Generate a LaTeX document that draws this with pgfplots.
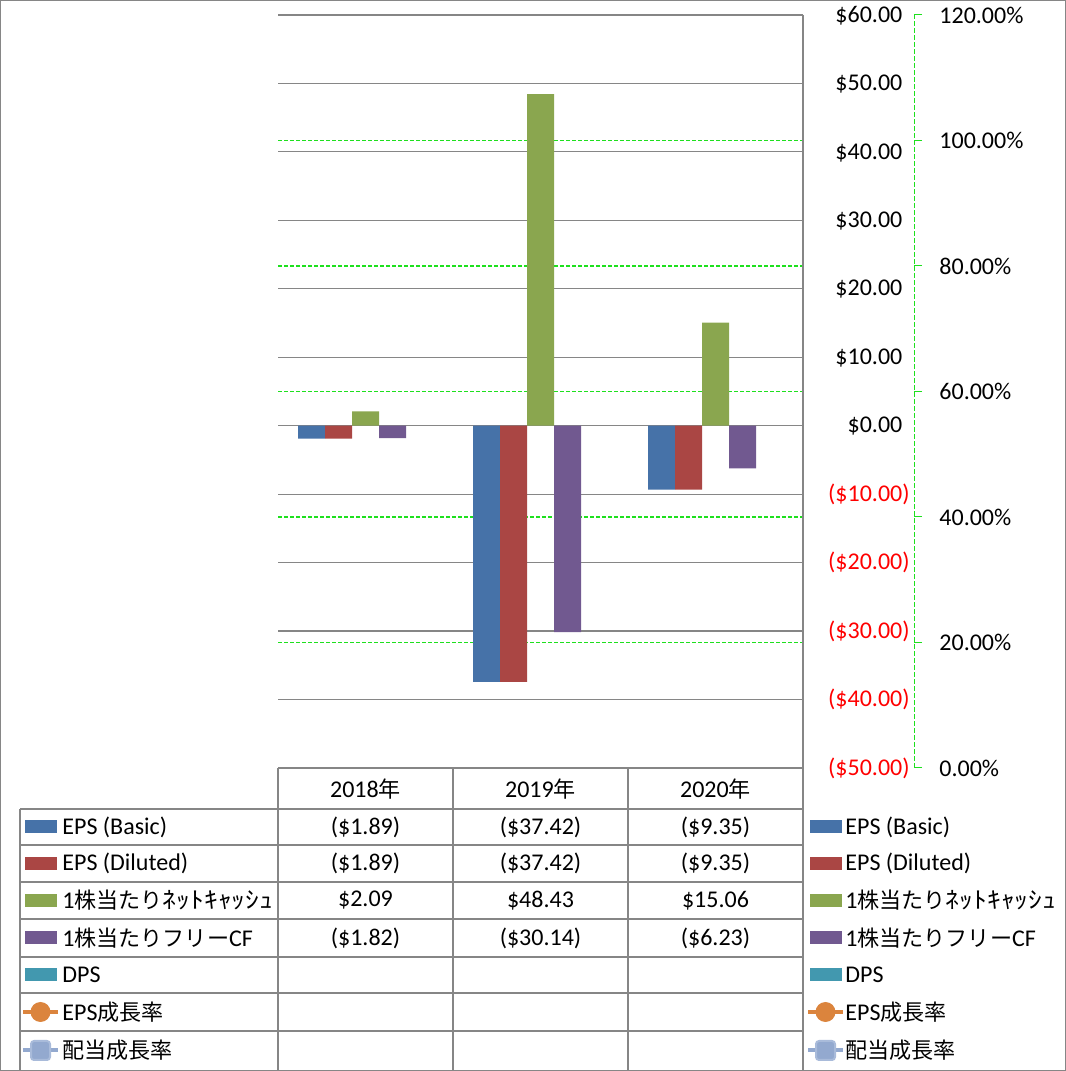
\documentclass[border=0pt]{standalone}
\usepackage{pgfplots}
\pgfplotsset{compat=1.18}
\usepackage{graphicx}
\usepackage{fontspec}
\setmainfont{Carlito}
\newfontfamily\jp{Noto Sans CJK JP}[Scale=0.92]
\newcommand{\J}[1]{{\jp #1}}
% half-width katakana are set wider in the original
\newcommand{\HK}[1]{\scalebox{1.25}[1.05]{\jp #1}}

\definecolor{cBlue}{HTML}{4672A8}
\definecolor{cRed}{HTML}{AA4644}
\definecolor{cGreen}{HTML}{8AA64F}
\definecolor{cPurple}{HTML}{715990}
\definecolor{cTeal}{HTML}{4298AF}
\definecolor{cOrange}{HTML}{DB843D}
\definecolor{cLight}{HTML}{93A9CF}
\definecolor{cLightEdge}{HTML}{A9BBDA}
\definecolor{gridgray}{HTML}{868686}
\definecolor{gline}{HTML}{1EE01E}

\newcommand{\fs}{\fontsize{12bp}{14bp}\selectfont}

\begin{document}
\begin{tikzpicture}[x=0.5bp,y=0.5bp,font=\fs]
\useasboundingbox (0,0) rectangle (1066,1071);

% secondary axis (percent), its line sits right of the labels
\begin{axis}[
  at={(139bp,151.5bp)}, anchor=south west, scale only axis,
  width=318bp, height=376.5bp,
  xmin=0, xmax=1, ymin=0, ymax=1.2,
  axis x line=none, axis y line*=right,
  y axis line style={gline, line width=0.5bp, dash pattern=on 2.5bp off 1bp},
  ytick={0,0.2,0.4,0.6,0.8,1.0,1.2},
  yticklabels={0.00\%,20.00\%,40.00\%,60.00\%,80.00\%,100.00\%,120.00\%},
  tick align=outside, major tick length=4bp,
  ytick style={gline, line width=0.5bp},
  yticklabel style={anchor=west, inner sep=0pt, xshift=8.5bp, font=\fs},
]
\end{axis}

% primary axis with bars
\begin{axis}[
  at={(139bp,151.5bp)}, anchor=south west, scale only axis,
  width=262.5bp, height=376.5bp,
  xmin=-0.5, xmax=2.5, ymin=-50, ymax=60,
  axis x line=none, axis y line*=right,
  y axis line style={gridgray, line width=0.6bp},
  ytick={-50,-40,-30,-20,-10,0,10,20,30,40,50,60},
  yticklabels={
    \textcolor{red}{(\$50.00)},\textcolor{red}{(\$40.00)},\textcolor{red}{(\$30.00)},
    \textcolor{red}{(\$20.00)},\textcolor{red}{(\$10.00)},
    \$0.00\phantom{)},\$10.00\phantom{)},\$20.00\phantom{)},\$30.00\phantom{)},
    \$40.00\phantom{)},\$50.00\phantom{)},\$60.00\phantom{)}},
  yticklabel style={anchor=east, inner sep=0pt, xshift=53.5bp, font=\fs},
  major tick length=0pt,
  ymajorgrids, major grid style={gridgray, line width=0.6bp},
  extra y ticks={-31.6667,-13.3333,5,23.3333,41.6667},
  extra y tick labels={},
  extra y tick style={ymajorgrids=true,
    major grid style={gline, line width=0.55bp, dash pattern=on 2bp off 1bp}},
  ybar, bar width=13.5bp,
]
\addplot[fill=cBlue, draw=none, bar shift=-27bp] coordinates {(0,-1.89) (1,-37.42) (2,-9.35)};
\addplot[fill=cRed, draw=none, bar shift=-13.5bp] coordinates {(0,-1.89) (1,-37.42) (2,-9.35)};
\addplot[fill=cGreen, draw=none, bar shift=0bp] coordinates {(0,2.09) (1,48.43) (2,15.06)};
\addplot[fill=cPurple, draw=none, bar shift=13.5bp] coordinates {(0,-1.82) (1,-30.14) (2,-6.23)};
\end{axis}

% outer border
\draw[gridgray, line width=0.6bp] (0.5,0.5) rectangle (1065.5,1070.5);

% data table
\begin{scope}[gridgray, line width=0.6bp]
  \draw (278,303) -- (803,303);
  \foreach \yy in {262,226,189,152,114,78,40} \draw (20,\yy) -- (803,\yy);
  \draw (20,262) -- (20,1);
  \foreach \xx in {278,453,628} \draw (\xx,303) -- (\xx,1);
  \draw (803,1056) -- (803,1);
\end{scope}

\node at (365.5,282) {2018\J{年}};
\node at (540.5,282) {2019\J{年}};
\node at (715.5,282) {2020\J{年}};

\node at (365.5,244) {(\$1.89)};
\node at (540.5,244) {(\$37.42)};
\node at (715.5,244) {(\$9.35)};
\node at (365.5,207.5) {(\$1.89)};
\node at (540.5,207.5) {(\$37.42)};
\node at (715.5,207.5) {(\$9.35)};
\node at (365.5,170.5) {\$2.09};
\node at (540.5,170.5) {\$48.43};
\node at (715.5,170.5) {\$15.06};
\node at (365.5,133) {(\$1.82)};
\node at (540.5,133) {(\$30.14)};
\node at (715.5,133) {(\$6.23)};

% legend keys and names: inside the table and at the right
\foreach \kx/\tx in {23/62, 808/845} {
  \fill[cBlue]   (\kx+2,237.5) rectangle ++(32,13);
  \fill[cRed]    (\kx+2,201) rectangle ++(32,13);
  \fill[cGreen]  (\kx+2,164) rectangle ++(32,13);
  \fill[cPurple] (\kx+2,126.5) rectangle ++(32,13);
  \fill[cTeal]   (\kx+2,89.5) rectangle ++(32,13);
  \draw[cOrange, line width=2bp] (\kx,59) -- ++(35,0);
  \fill[cOrange] (\kx+17.5,59) circle (10);
  \draw[cLight, line width=2bp] (\kx,20.5) -- ++(35,0);
  \filldraw[fill=cLight, draw=cLightEdge, line width=1bp, rounded corners=1.5bp]
    (\kx+8,11) rectangle ++(19,19);
  \node[anchor=west, inner sep=0pt] at (\tx,244) {EPS (Basic)};
  \node[anchor=west, inner sep=0pt] at (\tx,207.5) {EPS (Diluted)};
  \node[anchor=west, inner sep=0pt] at (\tx,170.5) {1\J{株当たり}\HK{ﾈｯﾄｷｬｯｼｭ}};
  \node[anchor=west, inner sep=0pt] at (\tx,133) {1\J{株当たりフリー}CF};
  \node[anchor=west, inner sep=0pt] at (\tx,96) {DPS};
  \node[anchor=west, inner sep=0pt] at (\tx,59) {EPS\J{成長率}};
  \node[anchor=west, inner sep=0pt] at (\tx,20.5) {\J{配当成長率}};
}
\end{tikzpicture}
\end{document}
